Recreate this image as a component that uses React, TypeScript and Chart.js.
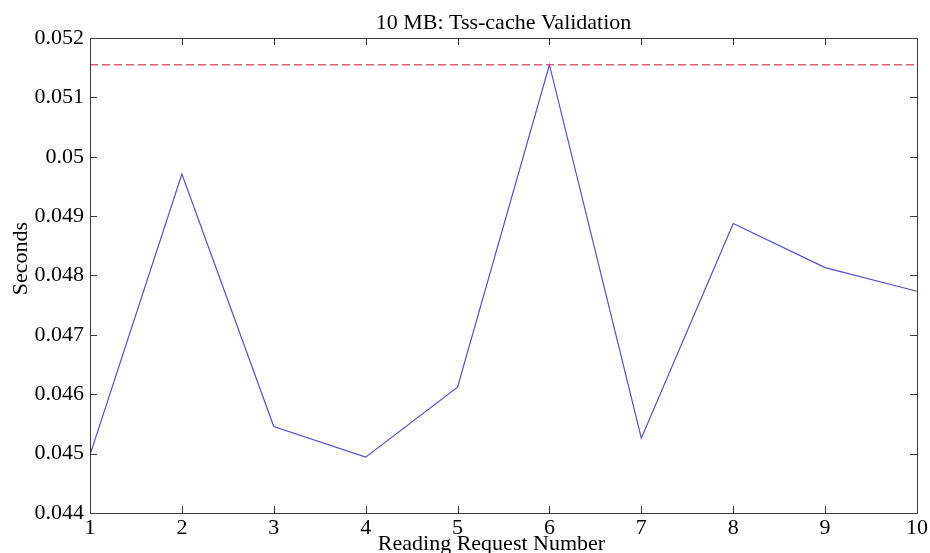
import React, { useEffect, useRef } from "react";
import { Chart, registerables } from "chart.js";

Chart.register(...registerables);

const requestNumbers = [1, 2, 3, 4, 5, 6, 7, 8, 9, 10];
const seconds = [0.04498, 0.04971, 0.045457, 0.04494, 0.04612, 0.05155, 0.04526, 0.048875, 0.048133, 0.047734];
const yTicks = [0.044, 0.045, 0.046, 0.047, 0.048, 0.049, 0.05, 0.051, 0.052];
const chartTitle = "10 MB: Tss-cache Validation";
const xTitle = "Reading Request Number";
const yTitle = "Seconds";

const FONT = "'Liberation Serif', 'Times New Roman', serif";
const AXIS_COLOR = "#3a3a3a";

const boxPlugin = {
  id: "matlabBox",
  afterDraw(chart: any) {
    const { ctx, chartArea } = chart;
    const { left, right, top, bottom } = chartArea;
    const xs = chart.scales.x;
    const ys = chart.scales.y;
    const tl = 7;
    ctx.save();
    ctx.strokeStyle = AXIS_COLOR;
    ctx.lineWidth = 1;
    ctx.beginPath();
    ctx.rect(Math.round(left) + 0.5, Math.round(top) + 0.5, Math.round(right - left), Math.round(bottom - top));
    ctx.stroke();
    ctx.beginPath();
    for (const v of requestNumbers) {
      const px = Math.round(xs.getPixelForValue(v)) + 0.5;
      ctx.moveTo(px, bottom);
      ctx.lineTo(px, bottom - tl);
      ctx.moveTo(px, top);
      ctx.lineTo(px, top + tl);
    }
    for (const v of yTicks) {
      const py = Math.round(ys.getPixelForValue(v)) + 0.5;
      ctx.moveTo(left, py);
      ctx.lineTo(left + tl, py);
      ctx.moveTo(right, py);
      ctx.lineTo(right - tl, py);
    }
    ctx.stroke();

    ctx.fillStyle = "#000";
    ctx.font = `22px ${FONT}`;
    ctx.textAlign = "center";
    ctx.textBaseline = "alphabetic";
    const cx = (left + right) / 2;
    ctx.fillText(chartTitle, cx, top - 9);
    ctx.fillText(xTitle, cx - 12, bottom + 37);
    ctx.save();
    ctx.translate(left - 63, (top + bottom) / 2 - 17);
    ctx.rotate(-Math.PI / 2);
    ctx.fillText(yTitle, 0, 0);
    ctx.restore();
    ctx.restore();
  },
};

export default function App() {
  const ref = useRef<HTMLCanvasElement | null>(null);
  useEffect(() => {
    if (!ref.current) return;
    const peak = Math.max(...seconds);
    const chart = new Chart(ref.current, {
      type: "line",
      data: {
        datasets: [
          {
            label: "Seconds",
            data: requestNumbers.map((x, i) => ({ x, y: seconds[i] })),
            borderColor: "#5050c0",
            borderWidth: 1.2,
            pointRadius: 0,
            tension: 0,
            fill: false,
          },
          {
            label: "Max",
            data: [
              { x: requestNumbers[0], y: peak },
              { x: requestNumbers[requestNumbers.length - 1], y: peak },
            ],
            borderColor: "#e0607a",
            borderWidth: 1.5,
            borderDash: [8, 4],
            pointRadius: 0,
            fill: false,
          },
        ],
      },
      options: {
        animation: false,
        responsive: true,
        maintainAspectRatio: false,
        layout: { padding: { top: 38, right: 11, left: 0, bottom: 0 } },
        plugins: {
          legend: { display: false },
          tooltip: { enabled: false },
          title: { display: false },
        },
        scales: {
          x: {
            type: "linear",
            min: 1,
            max: 10,
            grid: { display: false, drawTicks: false },
            border: { display: false },
            afterBuildTicks: (scale: any) => {
              scale.ticks = requestNumbers.map((v) => ({ value: v }));
            },
            afterFit: (scale: any) => {
              scale.height = 40;
            },
            ticks: {
              color: "#000",
              font: { family: FONT, size: 22 },
              padding: 2,
              maxRotation: 0,
              autoSkip: false,
              callback: (v: any) => String(v),
            },
          },
          y: {
            type: "linear",
            min: 0.044,
            max: 0.052,
            grid: { display: false, drawTicks: false },
            border: { display: false },
            afterBuildTicks: (scale: any) => {
              scale.ticks = yTicks.map((v) => ({ value: v }));
            },
            afterFit: (scale: any) => {
              scale.width = 90;
            },
            ticks: {
              color: "#000",
              font: { family: FONT, size: 22 },
              padding: 6,
              autoSkip: false,
              callback: (v: any) => String(Number(Number(v).toFixed(3))),
            },
          },
        },
      },
      plugins: [boxPlugin],
    });
    return () => chart.destroy();
  }, []);
  return (
    <div style={{ position: "fixed", left: 0, top: 0, width: 930, height: 553, background: "#fff" }}>
      <canvas ref={ref} />
    </div>
  );
}
